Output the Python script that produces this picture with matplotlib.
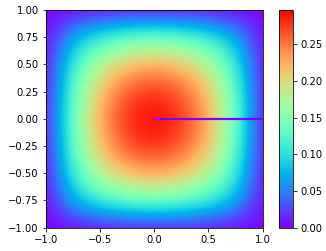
import numpy as np
import matplotlib
matplotlib.use("Agg")
import matplotlib.pyplot as plt

# grid node coordinates (x and y), step 0.25
coords = [-1.0, -0.75, -0.5, -0.25, 0.0, 0.25, 0.5, 0.75, 1.0]

# field values, rows from y=-1 (bottom) to y=1 (top)
u_values = [
    [0, 0, 0, 0, 0, 0, 0, 0, 0],
    [0, 0.073, 0.113, 0.134, 0.141, 0.134, 0.113, 0.073, 0],
    [0, 0.113, 0.183, 0.220, 0.231, 0.219, 0.182, 0.113, 0],
    [0, 0.134, 0.220, 0.268, 0.283, 0.266, 0.219, 0.134, 0],
    [0, 0.141, 0.232, 0.284, 0.297, 0.280, 0.230, 0.140, 0],
    [0, 0.134, 0.219, 0.266, 0.281, 0.264, 0.218, 0.133, 0],
    [0, 0.113, 0.182, 0.219, 0.230, 0.218, 0.181, 0.112, 0],
    [0, 0.073, 0.112, 0.133, 0.140, 0.133, 0.112, 0.072, 0],
    [0, 0, 0, 0, 0, 0, 0, 0, 0],
]

# slit line
slit_x = [0.0, 1.0]
slit_y = [0.0, 0.0]

vmin, vmax = 0.0, 0.297
cbar_ticks = [0.00, 0.05, 0.10, 0.15, 0.20, 0.25]
x_ticks = [-1.0, -0.5, 0.0, 0.5, 1.0]
y_ticks = [-1.00, -0.75, -0.50, -0.25, 0.00, 0.25, 0.50, 0.75, 1.00]

W, H = 326, 251
fig = plt.figure(figsize=(W / 72, H / 72), dpi=72)
ax = fig.add_axes([45.7 / W, 23.3 / H, 216.8 / W, 217.7 / H])
cax = fig.add_axes([279.3 / W, 23.3 / H, 13.7 / W, 217.7 / H])

u = np.array(u_values)
step = coords[1] - coords[0]
ext = [coords[0] - step / 2, coords[-1] + step / 2,
       coords[0] - step / 2, coords[-1] + step / 2]
im = ax.imshow(u, origin="lower", extent=ext, cmap="rainbow",
               vmin=vmin, vmax=vmax, interpolation="bicubic", aspect="auto")
ax.plot(slit_x, slit_y, color=plt.get_cmap("rainbow")(0.0), lw=2.2,
        solid_capstyle="butt")
ax.set_xlim(-1.0, 1.0)
ax.set_ylim(-1.0, 1.0)
ax.set_xticks(x_ticks)
ax.set_yticks(y_ticks)
ax.set_xticklabels([f"{t:.1f}".replace("-", "\u2212") for t in x_ticks])
ax.set_yticklabels([f"{t:.2f}".replace("-", "\u2212") for t in y_ticks])
ax.tick_params(labelsize=10)

cb = fig.colorbar(im, cax=cax, ticks=cbar_ticks)
cb.ax.set_yticklabels([f"{t:.2f}" for t in cbar_ticks])
cb.ax.tick_params(labelsize=10)

fig.savefig("out.png", dpi=72)
